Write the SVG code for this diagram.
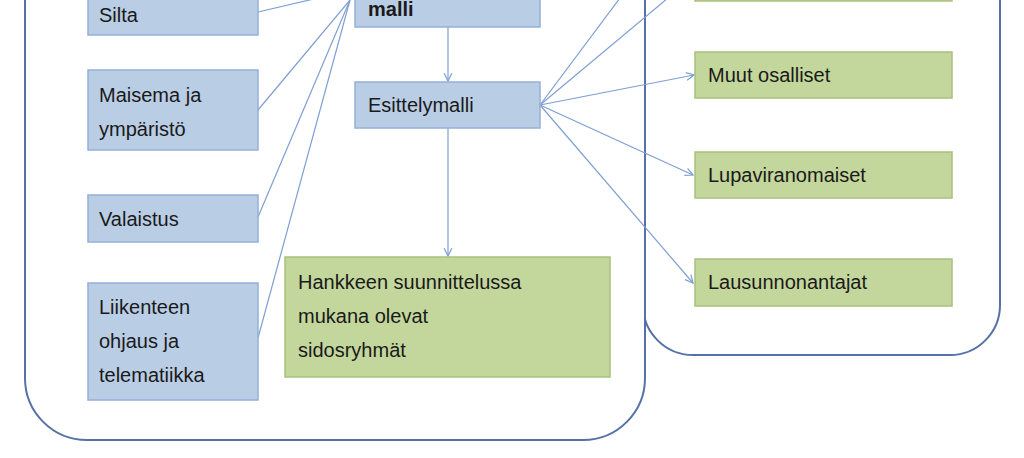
<svg xmlns="http://www.w3.org/2000/svg" width="1024" height="458" viewBox="0 0 1024 458">
<style>
.c{fill:#fff;stroke:#5572a8;stroke-width:2}
.b{fill:#b9cde5;stroke:#93b0d6;stroke-width:1.5}
.g{fill:#c3d69b;stroke:#a9c07c;stroke-width:1.5}
text{font-family:"Liberation Sans",Arial,sans-serif;font-size:20px;fill:#1a1a1a}
.l{stroke:#7f9fd3;stroke-width:1.2;fill:none}
</style>
<defs><marker id="a" viewBox="0 0 10 10" refX="9" refY="5" markerWidth="8" markerHeight="8" orient="auto"><path d="M1,1L9,5L1,9" fill="none" stroke="#7f9fd3" stroke-width="1.3"/></marker></defs>
<rect width="1024" height="458" fill="#fff"/>
<g id="right-container"><rect class="c" x="643" y="-80" width="357" height="435" rx="50"/></g>
<g id="left-container"><rect class="c" x="25" y="-80" width="620" height="520" rx="62"/></g>
<g id="connectors">
<line class="l" x1="258" y1="12" x2="318" y2="-2"/>
<line class="l" x1="258" y1="110" x2="350" y2="0"/>
<line class="l" x1="258" y1="217" x2="350" y2="0"/>
<line class="l" x1="258" y1="338" x2="350" y2="0"/>
<line class="l" x1="448" y1="27" x2="448" y2="81" marker-end="url(#a)"/>
<line class="l" x1="448" y1="128" x2="448" y2="256" marker-end="url(#a)"/>
<line class="l" x1="540" y1="105" x2="620" y2="-2"/>
<line class="l" x1="540" y1="105" x2="668" y2="-2"/>
<line class="l" x1="540" y1="105" x2="694" y2="75" marker-end="url(#a)"/>
<line class="l" x1="540" y1="105" x2="693" y2="175" marker-end="url(#a)"/>
<line class="l" x1="540" y1="105" x2="693" y2="283" marker-end="url(#a)"/>
</g>
<g id="silta"><rect class="b" x="88" y="-20" width="170" height="55"/><text x="99" y="22">Silta</text></g>
<g id="maisema"><rect class="b" x="88" y="70" width="170" height="80"/><text x="99" y="102">Maisema ja</text><text x="99" y="136">ympäristö</text></g>
<g id="valaistus"><rect class="b" x="88" y="195" width="170" height="47"/><text x="99" y="226">Valaistus</text></g>
<g id="liikenteen"><rect class="b" x="88" y="283" width="170" height="117"/><text x="99" y="314">Liikenteen</text><text x="99" y="348">ohjaus ja</text><text x="99" y="382">telematiikka</text></g>
<g id="malli"><rect class="b" x="355" y="-30" width="185" height="57"/><text x="368" y="16" font-weight="bold">malli</text></g>
<g id="esittelymalli"><rect class="b" x="355" y="82" width="185" height="46"/><text x="368" y="112">Esittelymalli</text></g>
<g id="hankkeen"><rect class="g" x="285" y="257" width="325" height="120"/><text x="298" y="289">Hankkeen suunnittelussa</text><text x="298" y="323">mukana olevat</text><text x="298" y="357">sidosryhmät</text></g>
<g id="top-green"><rect class="g" x="695" y="-40" width="257" height="41"/></g>
<g id="muut"><rect class="g" x="695" y="52" width="257" height="46"/><text x="708" y="82">Muut osalliset</text></g>
<g id="lupa"><rect class="g" x="695" y="152" width="257" height="46"/><text x="708" y="182">Lupaviranomaiset</text></g>
<g id="lausunnon"><rect class="g" x="695" y="259" width="257" height="47"/><text x="708" y="289">Lausunnonantajat</text></g>
</svg>
